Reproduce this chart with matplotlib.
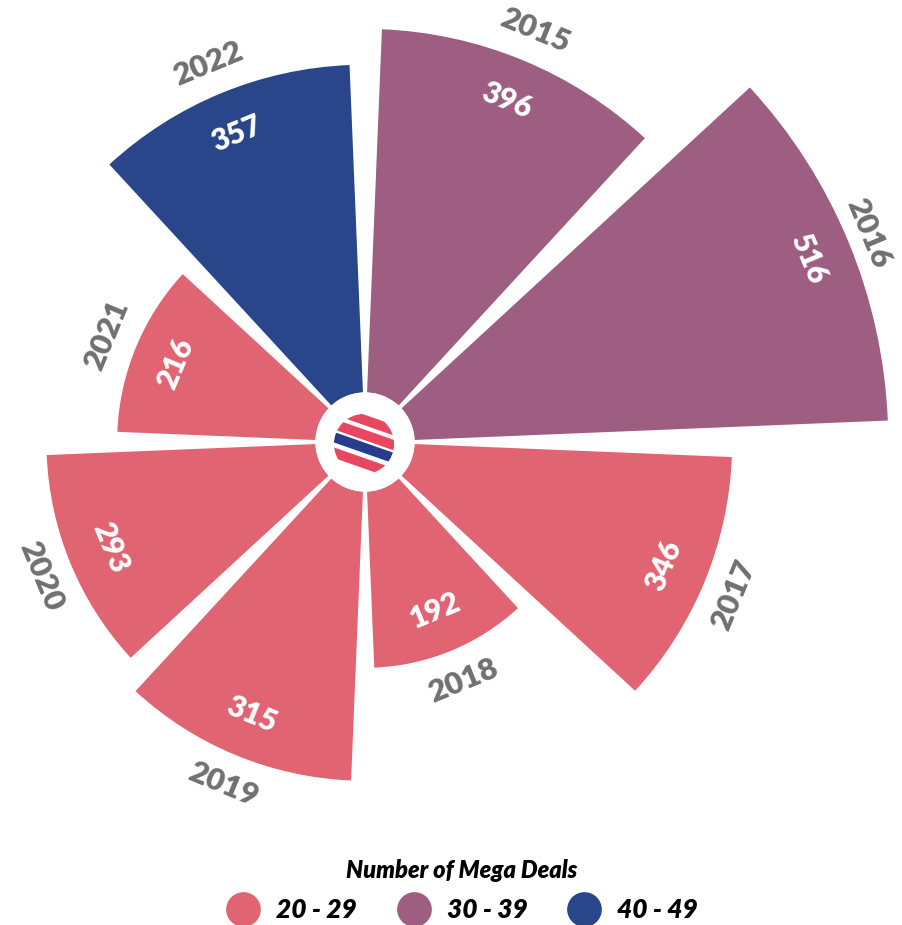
import numpy as np
import matplotlib.pyplot as plt
from matplotlib.lines import Line2D
from matplotlib.patches import Circle, Polygon

plt.rcParams['font.family'] = ['Lato', 'DejaVu Sans']

# data
years = ['2015', '2016', '2017', '2018', '2019', '2020', '2021', '2022']
values = [396, 516, 346, 192, 315, 293, 216, 357]
deal_bins = ['30 - 39', '30 - 39', '20 - 29', '20 - 29', '20 - 29', '20 - 29', '20 - 29', '40 - 49']
bin_labels = ['20 - 29', '30 - 39', '40 - 49']
bin_colors = ['#E16473', '#9D5E82', '#284689']
color_of = dict(zip(bin_labels, bin_colors))

W, H = 902, 925
fig = plt.figure(figsize=(W / 100, H / 100), dpi=100)
fig.patch.set_facecolor('white')

# polar axes placed in pixels so the rose centre sits at (365, 442)
cx, cy = 365, H - 442
r_origin = 54
r_max = 540
px_per_unit = 0.918
rad_px = (r_max + r_origin) * px_per_unit
ax = fig.add_axes([(cx - rad_px) / W, (cy - rad_px) / H, 2 * rad_px / W, 2 * rad_px / H],
                  projection='polar')
ax.set_theta_zero_location('N')
ax.set_theta_direction(-1)
ax.set_rorigin(-r_origin)
ax.set_ylim(0, r_max)
ax.axis('off')

angles_deg = 22.5 + 45 * np.arange(len(years))
theta = np.deg2rad(angles_deg)
colors = [color_of[b] for b in deal_bins]
ax.bar(theta, values, width=np.deg2rad(40.3), bottom=0, color=colors, edgecolor='none')

for ang, th, v, yr in zip(angles_deg, theta, values, years):
    rot = -ang
    if 90 < ang < 270:
        rot += 180
    ax.text(th, v - 47, str(v), rotation=rot, rotation_mode='anchor',
            ha='center', va='center', color='white', fontsize=21.5, fontweight='heavy')
    # keep the year inside the plotting radius so it stays on the canvas
    ax.text(th, min(v + 35, r_max), yr, rotation=rot, rotation_mode='anchor',
            ha='center', va='center', color='#707070', fontsize=22.5, fontweight='heavy',
            clip_on=False)

# centre logo
lg = 31
lax = fig.add_axes([(364 - lg) / W, (H - 444 - lg) / H, 2 * lg / W, 2 * lg / H])
lax.set_xlim(-1, 1)
lax.set_ylim(-1, 1)
lax.axis('off')
clip = Circle((0, 0), 0.97, transform=lax.transData, facecolor='none', edgecolor='none')
lax.add_patch(clip)
band_offsets = [0.78, 0.3, -0.12, -0.62]
band_colors = ['#E8485F', '#E8485F', '#283C8E', '#E8485F']
for c, col in zip(band_offsets, band_colors):
    t = 0.17
    pts = [(-1.2, c + 0.42 + t), (1.2, c - 0.42 + t), (1.2, c - 0.42 - t), (-1.2, c + 0.42 - t)]
    p = Polygon(pts, closed=True, facecolor=col, edgecolor='none')
    lax.add_patch(p)
    p.set_clip_path(clip)

# legend
handles = [Line2D([0], [0], marker='o', linestyle='none', markersize=25,
                  markerfacecolor=c, markeredgecolor='none') for c in bin_colors]
leg = fig.legend(handles, bin_labels, loc='lower center', bbox_to_anchor=(462 / W, -13 / H),
                 ncol=3, frameon=False, title='Number of Mega Deals',
                 prop={'size': 19, 'weight': 'heavy', 'style': 'italic'},
                 title_fontproperties={'size': 17, 'weight': 'heavy', 'style': 'italic'},
                 handlelength=1.3, handletextpad=0.6, columnspacing=1.5, borderpad=0.1,
                 labelspacing=0.6)

fig.savefig('out.png', dpi=100, facecolor='white')
